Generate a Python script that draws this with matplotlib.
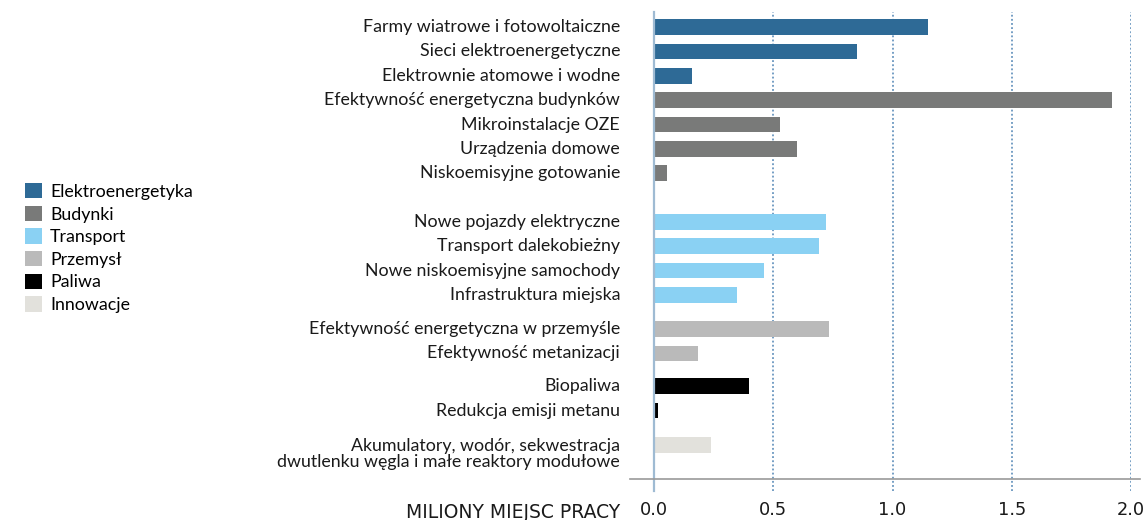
import matplotlib.pyplot as plt
from matplotlib.patches import Patch
from matplotlib.lines import Line2D
from matplotlib.transforms import blended_transform_factory

plt.rcParams['font.family'] = ['Lato', 'DejaVu Sans']

labels = ['Farmy wiatrowe i fotowoltaiczne', 'Sieci elektroenergetyczne',
          'Elektrownie atomowe i wodne', 'Efektywność energetyczna budynków',
          'Mikroinstalacje OZE', 'Urządzenia domowe', 'Niskoemisyjne gotowanie',
          'Nowe pojazdy elektryczne', 'Transport dalekobieżny',
          'Nowe niskoemisyjne samochody', 'Infrastruktura miejska',
          'Efektywność energetyczna w przemyśle', 'Efektywność metanizacji',
          'Biopaliwa', 'Redukcja emisji metanu',
          'Akumulatory, wodór, sekwestracja\ndwutlenku węgla i małe reaktory modułowe']
values = [1.15, 0.85, 0.16, 1.92, 0.53, 0.60, 0.055,
          0.72, 0.69, 0.46, 0.35,
          0.735, 0.185,
          0.40, 0.015,
          0.24]
groups = [0, 0, 0, 1, 1, 1, 1, 2, 2, 2, 2, 3, 3, 4, 4, 5]
sectors = ['Elektroenergetyka', 'Budynki', 'Transport', 'Przemysł', 'Paliwa', 'Innowacje']
colors = ['#2e6a96', '#797a79', '#8ad1f3', '#bababa', '#000000', '#e2e1dc']
# extra space before each group
gaps = [0, 0, 1.0, 0.4, 0.35, 0.4]
ticks = [0.0, 0.5, 1.0, 1.5, 2.0]

pos = []
y = 0
for i, g in enumerate(groups):
    if i > 0:
        y += 1 + (gaps[g] if g != groups[i - 1] else 0)
    pos.append(y)

W, H = 1144, 520
fig = plt.figure(figsize=(W / 100, H / 100), dpi=100)
ax = fig.add_axes([654 / W, 1 - 491 / H, (1131 - 654) / W, (491 - 12) / H])

ax.barh(pos, values, height=0.64, color=[colors[g] for g in groups], zorder=3)

ax.set_xlim(0, 2.0)
ax.set_ylim(pos[-1] + 1.9, -0.62)
ax.set_xticks(ticks)
ax.set_xticklabels(['%.1f' % t for t in ticks], family=['Liberation Sans Narrow', 'DejaVu Sans'],
                   fontsize=12.8, color='#1a1a1a')
ax.tick_params(axis='x', length=0, pad=7)
ax.set_yticks([])
ax.grid(axis='x', color='#4f84b4', linestyle=(0, (1.2, 1.5)), linewidth=1.1, zorder=0)

for s in ['top', 'right', 'bottom']:
    ax.spines[s].set_visible(False)
ax.spines['left'].set_color('#9fbbd3')
ax.spines['left'].set_linewidth(1.6)
ax.spines['left'].set_zorder(4)

fs = 12.8
trans = blended_transform_factory(ax.transAxes, ax.transData)
for lab, p in zip(labels, pos):
    if '\n' in lab:
        ax.annotate(lab, xy=(0, p), xycoords=trans, xytext=(-34, 7), textcoords='offset pixels',
                    ha='right', va='top', fontsize=fs, color='#1a1a1a', linespacing=1.05)
    else:
        ax.annotate(lab, xy=(0, p), xycoords=trans, xytext=(-34, 0), textcoords='offset pixels',
                    ha='right', va='center', fontsize=fs, color='#1a1a1a')

fig.add_artist(Line2D([630 / W, 1140 / W], [1 - 478.5 / H, 1 - 478.5 / H],
                      color='#999999', linewidth=1.2))

fig.text(620 / W, 1 - 512 / H, 'MILIONY MIEJSC PRACY', ha='right', va='center',
         family=['Liberation Sans Narrow', 'DejaVu Sans'], fontsize=13.5, color='#1a1a1a')

handles = [Patch(facecolor=c, label=s) for s, c in zip(sectors, colors)]
fig.legend(handles=handles, loc='upper left', bbox_to_anchor=(18 / W, 1 - 176 / H),
           frameon=False, fontsize=fs, handlelength=0.95, handleheight=0.95,
           handletextpad=0.45, labelspacing=0.33, borderaxespad=0)

fig.savefig('out.png', dpi=100)
